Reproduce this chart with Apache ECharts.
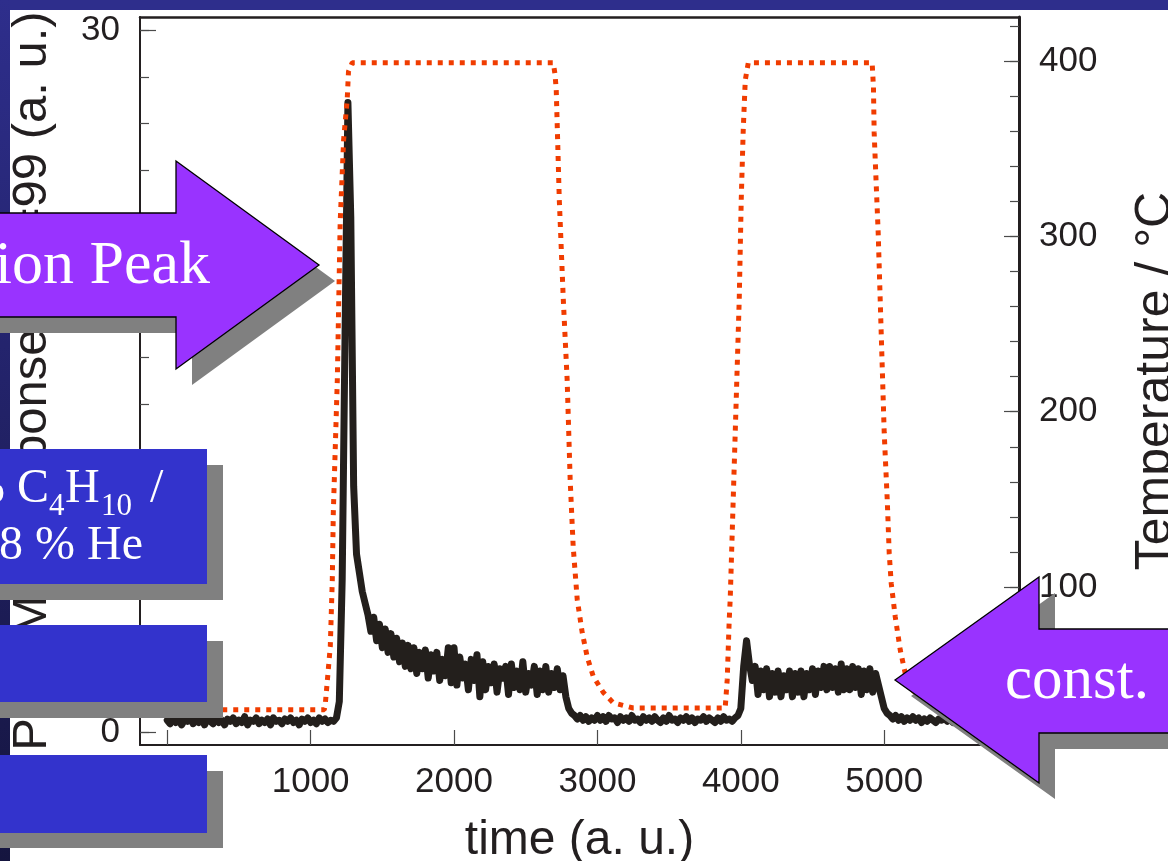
<!DOCTYPE html>
<html><head><meta charset="utf-8">
<script src="https://cdn.jsdelivr.net/npm/echarts@6/dist/echarts.min.js"></script>
<style>html,body{margin:0;padding:0;background:#fff}#c{width:1168px;height:861px}</style>
</head><body><div id="c"></div>
<script>
// ---- tick values ----
const xTicks = [0, 1000, 2000, 3000, 4000, 5000];
const leftMajor = [0, 10, 20, 30];
const leftMinor = [0, 2, 4, 6, 8, 10, 12, 14, 16, 18, 20, 22, 24, 26, 28, 30];
const rightMajor = [100, 200, 300, 400];
const rightMinor = [20, 40, 60, 80, 100, 120, 140, 160, 180, 200, 220, 240, 260, 280, 300, 320, 340, 360, 380, 400, 420];

// ---- PTR-MS signal (left axis), sampled every 20 time units from t = 0 ----
const signalStep = 20;
const signal = [
  0.5,0.35,0.6,0.4,0.55,0.3,0.5,0.45,0.65,0.35,
  0.5,0.4,0.6,0.3,0.55,0.45,0.35,0.6,0.4,0.5,
  0.3,0.55,0.45,0.6,0.35,0.5,0.4,0.65,0.3,0.5,
  0.45,0.6,0.35,0.5,0.4,0.55,0.3,0.6,0.45,0.5,
  0.35,0.55,0.45,0.6,0.4,0.5,0.3,0.55,0.45,0.6,
  0.4,0.5,0.35,0.6,0.45,0.55,0.4,0.5,0.45,0.6,
  1.3,6.5,17,26.9,22,10.5,7.6,6.8,6.0,5.5,
  5.0,4.3,4.9,3.9,4.6,3.6,4.4,3.4,4.2,3.2,
  4.0,3.0,3.8,2.8,3.7,2.7,3.6,2.5,3.4,2.7,
  3.5,2.3,3.3,2.6,3.4,2.2,3.1,2.4,3.6,2.1,
  3.6,2.0,3.2,2.3,2.9,1.8,3.1,2.2,3.3,1.5,
  3.0,1.8,2.8,2.1,2.9,1.7,2.7,2.3,2.8,1.6,
  2.9,1.9,2.6,1.8,3.0,1.7,2.5,2.0,2.8,1.6,
  2.6,1.8,2.8,1.7,2.5,1.9,2.7,1.8,2.4,1.5,
  1.0,0.8,0.7,0.55,0.7,0.5,0.65,0.45,0.6,0.5,
  0.7,0.5,0.65,0.45,0.7,0.55,0.6,0.4,0.65,0.5,
  0.6,0.45,0.7,0.5,0.55,0.4,0.65,0.5,0.6,0.45,
  0.65,0.5,0.4,0.6,0.45,0.7,0.5,0.55,0.4,0.6,
  0.5,0.65,0.45,0.6,0.4,0.55,0.5,0.65,0.45,0.6,
  0.5,0.4,0.6,0.45,0.65,0.5,0.55,0.45,0.6,0.7,
  1.0,2.8,3.9,2.9,2.2,2.8,1.6,2.6,1.8,2.7,
  1.5,2.5,1.7,2.6,1.5,2.4,1.8,2.6,1.5,2.5,
  1.7,2.6,1.5,2.5,1.8,2.7,1.6,2.6,1.9,2.8,
  1.8,2.8,1.9,2.7,1.7,2.9,1.8,2.7,1.8,2.8,
  1.9,2.7,1.6,2.6,1.8,2.7,1.7,2.5,2.0,1.5,
  1.0,0.8,0.7,0.55,0.7,0.5,0.65,0.45,0.6,0.5,
  0.65,0.5,0.6,0.4,0.55,0.45,0.6,0.5,0.4,0.55,
  0.5,0.6,0.45,0.55,0.4,0.5,0.6,0.45,0.5,0.4,
  0.55,0.45,0.5,0.4,0.5,0.45
];

// ---- Temperature (right axis) ----
const tempTime = [0,1095,1102,1137,1151,1158,1172,1186,1206,1230,1255,1264,1290,
  2692,2705,2713,2734,2762,2789,2810,2831,2859,2894,2929,2971,3040,3110,3250,
  3891,3905,3919,3926,3947,3968,3989,4003,4017,4031,4052,
  4916,4925,4930,4944,4958,4972,4986,5000,5021,5035,5049,5077,5112,5146,5200,5280,5400,5700];
const tempValue = [30,30,33,66,104,142,180,218,308,355,378,394,399,
  399,392,383,321,264,218,161,123,93,74,60,49,40,34,31,
  31,47,81,93,150,207,264,321,361,389,399,
  399,385,359,330,302,264,226,188,150,119,102,83,64,51,41,35,32,31];

const signalData = signal.map((v, i) => [i * signalStep, v]);
const tempData = tempTime.map((t, i) => [t, tempValue[i]]);

const AX = '#231f20', TK = '#4a4a4a';
const plain = v => String(v);
const tickFont = {fontSize: 35, fontFamily: 'Liberation Sans', color: AX, formatter: plain};
const nameFont = {fontSize: 48, fontFamily: 'Liberation Sans', color: AX};

function arrowR(dx, dy) {
  return [[-60+dx,213+dy],[176+dx,213+dy],[176+dx,161+dy],[319+dx,265+dy],[176+dx,369+dy],[176+dx,317+dy],[-60+dx,317+dy]];
}
function arrowL(dx, dy) {
  return [[895+dx,680+dy],[1039+dx,577+dy],[1039+dx,629+dy],[1250+dx,629+dy],[1250+dx,733+dy],[1039+dx,733+dy],[1039+dx,783+dy]];
}
function txt(x, y, s, size, align) {
  return {type: 'text', x: x, y: y, z: 110,
    style: {text: s, font: size + 'px "Liberation Serif"', fill: '#ffffff',
      align: align, textAlign: align, verticalAlign: 'middle', textVerticalAlign: 'middle'}};
}

const chart = echarts.init(document.getElementById('c'), null, {renderer: 'canvas'});
chart.setOption({
  animation: false,
  backgroundColor: '#ffffff',
  grid: {left: 140, right: 149, top: 17, bottom: 116, containLabel: false, outerBoundsMode: 'none'},
  xAxis: [
    {type: 'value', min: -190, max: 5940, position: 'bottom',
      axisLine: {show: true, onZero: false, lineStyle: {color: AX, width: 2}},
      axisTick: {show: true, inside: true, length: 15, customValues: xTicks, lineStyle: {color: TK, width: 1.2}},
      axisLabel: Object.assign({customValues: xTicks, margin: 20}, tickFont),
      splitLine: {show: false},
      name: 'time (a. u.)', nameLocation: 'middle', nameGap: 72, nameTextStyle: nameFont},
    {type: 'value', min: -190, max: 5940, position: 'top',
      axisLine: {show: true, onZero: false, lineStyle: {color: AX, width: 2.5}},
      axisTick: {show: false}, axisLabel: {show: false}, splitLine: {show: false}}
  ],
  yAxis: [
    {type: 'value', min: -0.56, max: 30.56, position: 'left',
      axisLine: {show: true, onZero: false, lineStyle: {color: AX, width: 2}},
      axisTick: {show: true, inside: true, length: 9, customValues: leftMinor, lineStyle: {color: TK, width: 1.2}},
      axisLabel: Object.assign({customValues: leftMajor, margin: 20}, tickFont),
      splitLine: {show: false},
      name: 'PTR-MS Response m/z=99 (a. u.)', nameLocation: 'middle', nameGap: 83,
      nameTextStyle: Object.assign({}, nameFont, {fontSize: 49})},
    {type: 'value', min: -0.56, max: 30.56, position: 'left',
      axisLine: {show: false, onZero: false},
      axisTick: {show: true, inside: true, length: 16, customValues: leftMajor, lineStyle: {color: TK, width: 1.2}},
      axisLabel: {show: false}, splitLine: {show: false}},
    {type: 'value', min: 9.9, max: 425.1, position: 'right',
      axisLine: {show: true, onZero: false, lineStyle: {color: AX, width: 3}},
      axisTick: {show: true, inside: true, length: 9, customValues: rightMinor, lineStyle: {color: TK, width: 1.2}},
      axisLabel: Object.assign({customValues: rightMajor, margin: 20}, tickFont),
      splitLine: {show: false},
      name: 'Temperature / °C', nameLocation: 'middle', nameGap: 112,
      nameTextStyle: Object.assign({}, nameFont, {fontSize: 50})},
    {type: 'value', min: 9.9, max: 425.1, position: 'right',
      axisLine: {show: false, onZero: false},
      axisTick: {show: true, inside: true, length: 15, customValues: rightMajor, lineStyle: {color: TK, width: 1.2}},
      axisLabel: {show: false}, splitLine: {show: false}}
  ],
  series: [
    {type: 'line', name: 'PTR-MS m/z 99', xAxisIndex: 0, yAxisIndex: 0, data: signalData,
      symbol: 'none', showSymbol: false, z: 3,
      lineStyle: {color: '#231f1c', width: 7, join: 'round', cap: 'round'}},
    {type: 'line', name: 'Temperature', xAxisIndex: 0, yAxisIndex: 2, data: tempData,
      symbol: 'none', showSymbol: false, z: 4,
      lineStyle: {color: '#f03c00', width: 5, type: [5, 6]}}
  ],
  graphic: [
    {type: 'rect', z: 100, shape: {x: 0, y: 0, width: 1168, height: 10}, style: {fill: '#2e2e8c'}},
    {type: 'rect', z: 100, shape: {x: 0, y: 0, width: 10, height: 861},
      style: {fill: new echarts.graphic.LinearGradient(0, 0, 0, 1, [{offset: 0, color: '#2e2e8c'}, {offset: 1, color: '#15153f'}])}},
    // blue boxes with shadows
    {type: 'rect', z: 101, shape: {x: 0, y: 465, width: 223, height: 135}, style: {fill: '#808080'}},
    {type: 'rect', z: 102, shape: {x: -10, y: 449, width: 217, height: 135}, style: {fill: '#3333cc'}},
    {type: 'rect', z: 101, shape: {x: 0, y: 641, width: 223, height: 77}, style: {fill: '#808080'}},
    {type: 'rect', z: 102, shape: {x: -10, y: 625, width: 217, height: 77}, style: {fill: '#3333cc'}},
    {type: 'rect', z: 101, shape: {x: 0, y: 771, width: 223, height: 77}, style: {fill: '#808080'}},
    {type: 'rect', z: 102, shape: {x: -10, y: 755, width: 217, height: 78}, style: {fill: '#3333cc'}},
    txt(5, 489, '2 %', 48, 'right'),
    txt(17, 489, 'C', 48, 'left'),
    txt(49, 507, '4', 31, 'left'),
    txt(65, 489, 'H', 48, 'left'),
    txt(101, 507, '10', 31, 'left'),
    txt(150, 489, '/', 48, 'left'),
    txt(143, 546, '98 % He', 48, 'right'),
    // right-pointing arrow
    {type: 'polygon', z: 103, shape: {points: arrowR(16, 16)}, style: {fill: '#808080'}},
    {type: 'polygon', z: 104, shape: {points: arrowR(0, 0)}, style: {fill: '#9933ff', stroke: '#000000', lineWidth: 1.3}},
    Object.assign(txt(210, 267, 'ion Peak', 62, 'right'), {z: 111}),
    // left-pointing arrow
    {type: 'polygon', z: 103, shape: {points: arrowL(16, 16)}, style: {fill: '#808080'}},
    {type: 'polygon', z: 104, shape: {points: arrowL(0, 0)}, style: {fill: '#9933ff', stroke: '#000000', lineWidth: 1.3}},
    Object.assign(txt(1005, 682, 'const.', 61, 'left'), {z: 111})
  ]
});
</script></body></html>
